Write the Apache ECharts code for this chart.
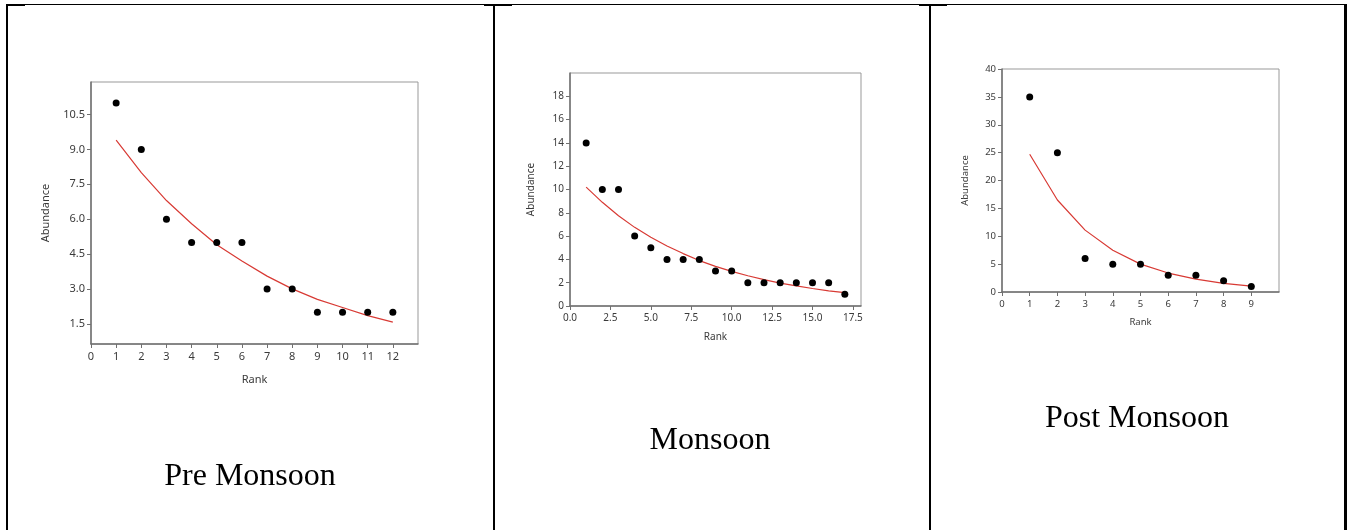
<!DOCTYPE html>
<html>
<head>
<meta charset="utf-8">
<script src="https://cdn.jsdelivr.net/npm/echarts@6/dist/echarts.min.js"></script>
<style>
  html, body { margin: 0; padding: 0; background: #fff; }
  #chart { width: 1354px; height: 530px; }
</style>
</head>
<body>
<div id="chart"></div>
<script>
// pre monsoon
var preRank = [1, 2, 3, 4, 5, 6, 7, 8, 9, 10, 11, 12]
var preAbund = [11, 9, 6, 5, 5, 5, 3, 3, 2, 2, 2, 2]
var preFit = [9.4, 8.0, 6.8, 5.8, 4.9, 4.2, 3.55, 3.0, 2.55, 2.2, 1.85, 1.57]
var preXTicks = [0, 1, 2, 3, 4, 5, 6, 7, 8, 9, 10, 11, 12]
var preYTicks = [1.5, 3.0, 4.5, 6.0, 7.5, 9.0, 10.5]

// monsoon
var monRank = [1, 2, 3, 4, 5, 6, 7, 8, 9, 10, 11, 12, 13, 14, 15, 16, 17]
var monAbund = [14, 10, 10, 6, 5, 4, 4, 4, 3, 3, 2, 2, 2, 2, 2, 2, 1]
var monFit = [10.2, 8.9, 7.75, 6.75, 5.9, 5.15, 4.5, 3.9, 3.4, 2.97, 2.6, 2.26, 1.97, 1.72, 1.5, 1.3, 1.14]
var monXTicks = [0, 2.5, 5, 7.5, 10, 12.5, 15, 17.5]
var monYTicks = [0, 2, 4, 6, 8, 10, 12, 14, 16, 18]

// post monsoon
var postRank = [1, 2, 3, 4, 5, 6, 7, 8, 9]
var postAbund = [35, 25, 6, 5, 5, 3, 3, 2, 1]
var postFit = [24.7, 16.5, 11.1, 7.5, 5.0, 3.4, 2.3, 1.55, 1.05]
var postXTicks = [0, 1, 2, 3, 4, 5, 6, 7, 8, 9]
var postYTicks = [0, 5, 10, 15, 20, 25, 30, 35, 40]

var captions = ['Pre Monsoon', 'Monsoon', 'Post Monsoon']

function pairs(xs, ys) {
  return xs.map(function (x, i) { return [x, ys[i]] })
}

var labelColor = '#3a3a3a'
var axisColor = '#707070'

function makeX(idx, min, max, ticks, fs, gap, fmt) {
  return {
    gridIndex: idx, type: 'value', min: min, max: max,
    name: 'Rank', nameLocation: 'middle', nameGap: gap,
    nameTextStyle: { color: labelColor, fontSize: fs, fontFamily: 'Noto Sans' },
    axisLine: { show: true, onZero: false, lineStyle: { color: axisColor, width: 1.5 } },
    axisTick: { show: true, length: 4, customValues: ticks, lineStyle: { color: axisColor } },
    axisLabel: { customValues: ticks, margin: 7, color: labelColor, fontSize: fs, fontFamily: 'Noto Sans', formatter: fmt },
    splitLine: { show: false }
  }
}

function makeY(idx, min, max, ticks, fs, gap, fmt) {
  return {
    gridIndex: idx, type: 'value', min: min, max: max,
    name: 'Abundance', nameLocation: 'middle', nameGap: gap,
    nameTextStyle: { color: labelColor, fontSize: fs, fontFamily: 'Noto Sans' },
    axisLine: { show: true, onZero: false, lineStyle: { color: axisColor, width: 1.5 } },
    axisTick: { show: true, length: 4, customValues: ticks, lineStyle: { color: axisColor } },
    axisLabel: { customValues: ticks, margin: 6, color: labelColor, fontSize: fs, fontFamily: 'Noto Sans', formatter: fmt },
    splitLine: { show: false }
  }
}

function one(v) { return v.toFixed(1) }
function plain(v) { return String(v) }

function dots(idx, data) {
  return { type: 'scatter', xAxisIndex: idx, yAxisIndex: idx, data: data,
    symbolSize: 7, itemStyle: { color: '#000', opacity: 1 }, z: 3 }
}
function fit(idx, data) {
  return { type: 'line', xAxisIndex: idx, yAxisIndex: idx, data: data,
    showSymbol: false, lineStyle: { color: '#d83a34', width: 1.2 }, z: 2 }
}

var gridBase = { show: true, borderColor: '#999', borderWidth: 1, backgroundColor: 'transparent' }

var option = {
  animation: false,
  grid: [
    Object.assign({ left: 91, top: 82, width: 327, height: 262 }, gridBase),
    Object.assign({ left: 570, top: 73, width: 291, height: 233 }, gridBase),
    Object.assign({ left: 1002, top: 69, width: 277, height: 223 }, gridBase)
  ],
  xAxis: [
    makeX(0, 0, 13, preXTicks, 11, 30, plain),
    makeX(1, 0, 18, monXTicks, 10, 26, one),
    makeX(2, 0, 10, postXTicks, 9.5, 25, plain)
  ],
  yAxis: [
    makeY(0, 0.63, 11.9, preYTicks, 11, 40, one),
    makeY(1, 0, 20, monYTicks, 10, 34, plain),
    makeY(2, 0, 40, postYTicks, 9.5, 32, plain)
  ],
  series: [
    fit(0, pairs(preRank, preFit)), dots(0, pairs(preRank, preAbund)),
    fit(1, pairs(monRank, monFit)), dots(1, pairs(monRank, monAbund)),
    fit(2, pairs(postRank, postFit)), dots(2, pairs(postRank, postAbund))
  ],
  graphic: [
    // table lines
    { type: 'rect', shape: { x: 6, y: 4, width: 1341, height: 1 }, style: { fill: '#000' } },
    { type: 'rect', shape: { x: 6, y: 4, width: 2, height: 526 }, style: { fill: '#000' } },
    { type: 'rect', shape: { x: 493, y: 4, width: 2, height: 526 }, style: { fill: '#000' } },
    { type: 'rect', shape: { x: 929, y: 4, width: 2, height: 526 }, style: { fill: '#000' } },
    { type: 'rect', shape: { x: 1344, y: 4, width: 3, height: 526 }, style: { fill: '#000' } },
    { type: 'rect', shape: { x: 7, y: 4, width: 18, height: 2 }, style: { fill: '#000' } },
    { type: 'rect', shape: { x: 484, y: 4, width: 28, height: 2 }, style: { fill: '#000' } },
    { type: 'rect', shape: { x: 919, y: 4, width: 28, height: 2 }, style: { fill: '#000' } },
    // captions
    { type: 'text', x: 250, y: 477, style: { text: captions[0], fill: '#000', font: '32px "Liberation Serif"', textAlign: 'center', textVerticalAlign: 'middle' } },
    { type: 'text', x: 710, y: 441, style: { text: captions[1], fill: '#000', font: '32px "Liberation Serif"', textAlign: 'center', textVerticalAlign: 'middle' } },
    { type: 'text', x: 1137, y: 419, style: { text: captions[2], fill: '#000', font: '32px "Liberation Serif"', textAlign: 'center', textVerticalAlign: 'middle' } }
  ]
}

var myChart = echarts.init(document.getElementById('chart'))
myChart.setOption(option)
</script>
</body>
</html>
